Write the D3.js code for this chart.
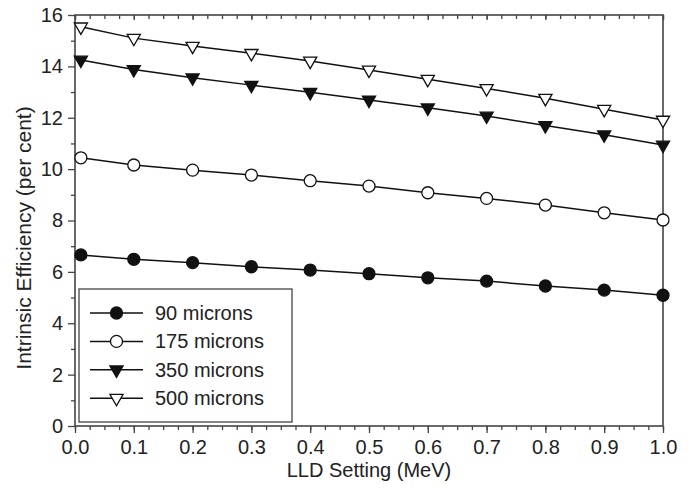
<!DOCTYPE html>
<html lang="en">
<meta charset="utf-8">
<head>
    <script src="https://d3js.org/d3.v7.min.js"></script>
    <style>
        body { margin: 0; background: #fff; }
        text { font-family: "Liberation Sans", Arial, sans-serif; fill: #222; }
    </style>
</head>
<body>
<script>
    // LLD settings (MeV)
    var lld = [0.01, 0.1, 0.2, 0.3, 0.4, 0.5, 0.6, 0.7, 0.8, 0.9, 1.0];

    // intrinsic efficiency (per cent) per detector thickness
    var eff90  = [6.66, 6.49, 6.36, 6.20, 6.07, 5.93, 5.77, 5.64, 5.45, 5.29, 5.09];
    var eff175 = [10.44, 10.16, 9.96, 9.77, 9.55, 9.34, 9.08, 8.86, 8.60, 8.30, 8.02];
    var eff350 = [14.25, 13.88, 13.56, 13.27, 12.99, 12.69, 12.39, 12.07, 11.70, 11.34, 10.94];
    var eff500 = [15.54, 15.10, 14.79, 14.51, 14.21, 13.86, 13.50, 13.14, 12.76, 12.33, 11.91];

    var seriesNames = ["90 microns", "175 microns", "350 microns", "500 microns"];
    var xTicks = [0.0, 0.1, 0.2, 0.3, 0.4, 0.5, 0.6, 0.7, 0.8, 0.9, 1.0];
    var yTicks = [0, 2, 4, 6, 8, 10, 12, 14, 16];

    var series = [
        {name: seriesNames[0], values: eff90,  shape: "circle",   fill: "#111"},
        {name: seriesNames[1], values: eff175, shape: "circle",   fill: "#fff"},
        {name: seriesNames[2], values: eff350, shape: "triangle", fill: "#111"},
        {name: seriesNames[3], values: eff500, shape: "triangle", fill: "#fff"}
    ];

    var W = 692, H = 488;
    var pLeft = 75, pRight = 663, pTop = 15, pBottom = 426;
    var axisColor = "#444";

    var svg = d3.select("body")
        .append("svg")
        .attr("width", W)
        .attr("height", H);

    var x = d3.scaleLinear().domain([0, 1]).range([pLeft, pRight]);
    var y = d3.scaleLinear().domain([0, 16]).range([pBottom, pTop]);

    // minor ticks
    var xMinor = d3.range(0, 1.0001, 0.025);
    var yMinor = d3.range(1, 16, 2);

    // bottom axis (outward ticks)
    var gx = svg.append("g")
        .attr("transform", "translate(0," + pBottom + ")");
    gx.append("g").call(d3.axisBottom(x).tickValues(xMinor).tickSize(4).tickFormat(""));
    gx.append("g").call(d3.axisBottom(x).tickValues(xTicks).tickSize(7).tickPadding(7)
        .tickFormat(d3.format(".1f")));

    // top axis (inward ticks)
    var gt = svg.append("g")
        .attr("transform", "translate(0," + pTop + ")");
    gt.append("g").call(d3.axisBottom(x).tickValues(xMinor).tickSize(4).tickFormat(""));
    gt.append("g").call(d3.axisBottom(x).tickValues(xTicks).tickSize(5).tickFormat(""));

    // left axis (outward ticks)
    var gy = svg.append("g")
        .attr("transform", "translate(" + pLeft + ",0)");
    gy.append("g").call(d3.axisLeft(y).tickValues(yMinor).tickSize(4).tickFormat(""));
    gy.append("g").call(d3.axisLeft(y).tickValues(yTicks).tickSize(7).tickPadding(5)
        .tickFormat(d3.format("d")));

    svg.selectAll(".domain").remove();
    svg.selectAll(".tick line").attr("stroke", axisColor).attr("stroke-width", 1.3);
    svg.selectAll(".tick text").style("font-size", "20px").attr("fill", "#222");

    // frame
    svg.append("rect")
        .attr("x", pLeft).attr("y", pTop)
        .attr("width", pRight - pLeft).attr("height", pBottom - pTop)
        .attr("fill", "none")
        .attr("stroke", axisColor)
        .attr("stroke-width", 1.6);

    // axis titles
    svg.append("text")
        .attr("x", (pLeft + pRight) / 2)
        .attr("y", 477)
        .attr("text-anchor", "middle")
        .style("font-size", "20px")
        .text("LLD Setting (MeV)");

    svg.append("text")
        .attr("transform", "translate(31,238) rotate(-90)")
        .attr("text-anchor", "middle")
        .style("font-size", "21px")
        .text("Intrinsic Efficiency (per cent)");

    var line = d3.line()
        .x(function(d, i) { return x(lld[i]); })
        .y(function(d) { return y(d); });

    var tri = d3.symbol().type(d3.symbolTriangle).size(75);

    function drawMarker(g, s, cx, cy) {
        if (s.shape == "circle") {
            g.append("circle")
                .attr("cx", cx).attr("cy", cy).attr("r", 6)
                .attr("fill", s.fill)
                .attr("stroke", "#111")
                .attr("stroke-width", 1.3);
        } else {
            g.append("path")
                .attr("d", tri)
                .attr("transform", "translate(" + cx + "," + cy + ") rotate(180)")
                .attr("fill", s.fill)
                .attr("stroke", "#111")
                .attr("stroke-width", 1.3);
        }
    }

    series.forEach(function(s) {
        svg.append("path")
            .datum(s.values)
            .attr("d", line)
            .attr("fill", "none")
            .attr("stroke", "#111")
            .attr("stroke-width", 1.5);
        var g = svg.append("g");
        s.values.forEach(function(v, i) {
            drawMarker(g, s, x(lld[i]), y(v));
        });
    });

    // legend
    var lg = svg.append("g");
    lg.append("rect")
        .attr("x", 79).attr("y", 289)
        .attr("width", 213).attr("height", 133)
        .attr("fill", "#fff")
        .attr("stroke", axisColor)
        .attr("stroke-width", 1.3);

    series.forEach(function(s, i) {
        var ly = 313 + i * 28.4;
        lg.append("line")
            .attr("x1", 90).attr("x2", 143)
            .attr("y1", ly).attr("y2", ly)
            .attr("stroke", "#111")
            .attr("stroke-width", 1.5);
        drawMarker(lg, s, 116.5, ly);
        lg.append("text")
            .attr("x", 155).attr("y", ly + 7)
            .style("font-size", "20px")
            .text(s.name);
    });
</script>
</body>
</html>
